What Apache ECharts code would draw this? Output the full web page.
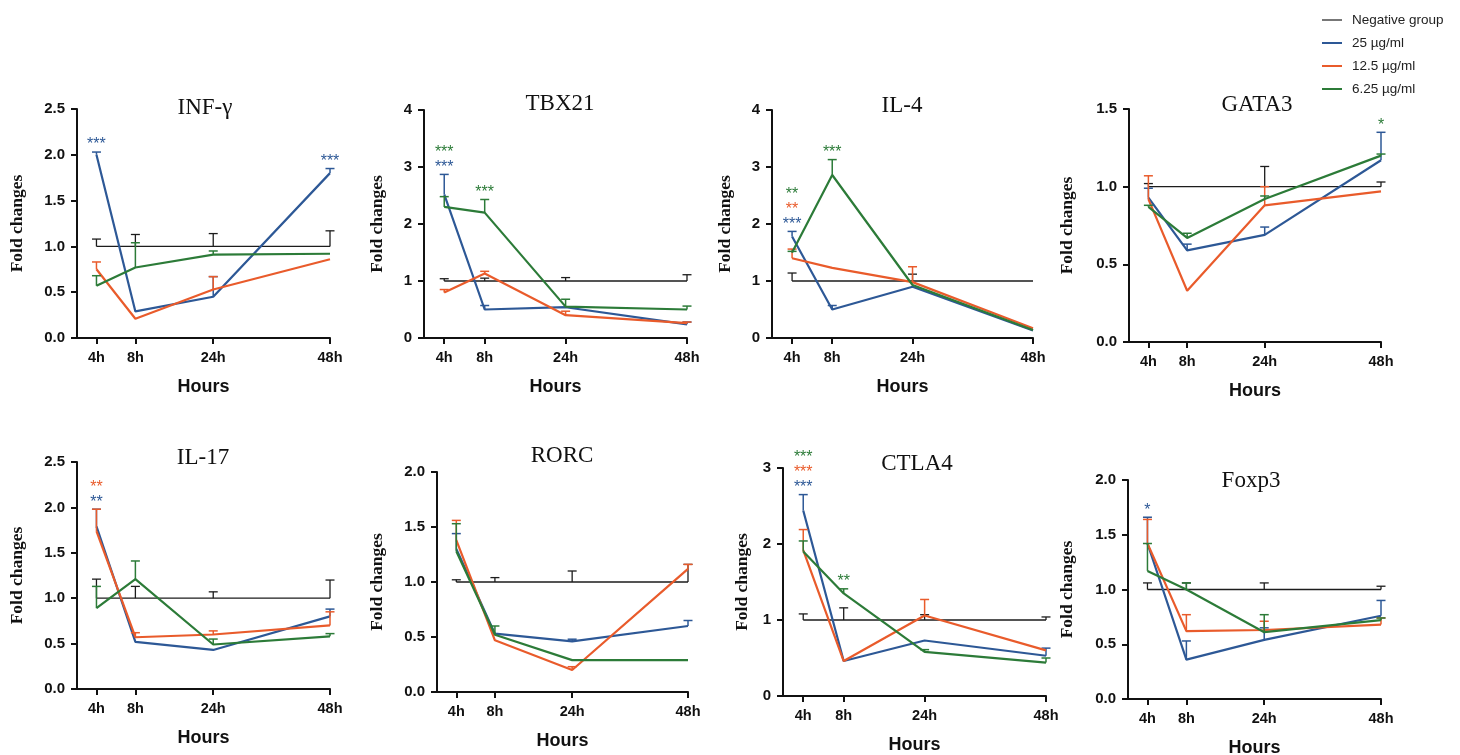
<!DOCTYPE html>
<html>
<head>
<meta charset="utf-8">
<script src="https://cdn.jsdelivr.net/npm/echarts@6/dist/echarts.min.js"></script>
<style>
  html, body { margin: 0; padding: 0; background: #fff; }
  #chart { width: 1460px; height: 755px; }
</style>
</head>
<body>
<div id="chart"></div>
<script>
// Sampling times and their spacing on the x axis
const hourLabels = ['4h', '8h', '24h', '48h'];
const hourPos = [0, 1, 3, 6];
const groupNames = ['Negative group', '25 µg/ml', '12.5 µg/ml', '6.25 µg/ml'];

// Fold changes (mean) and upper error (SEM) per gene, per group, at 4h/8h/24h/48h
const infgNeg = [1, 1, 1, 1],            infgNegErr = [0.08, 0.13, 0.14, 0.17];
const infg25  = [2.00, 0.29, 0.45, 1.80], infg25Err  = [0.03, 0, 0.22, 0.05];
const infg12  = [0.75, 0.21, 0.53, 0.86], infg12Err  = [0.08, 0, 0.14, 0];
const infg6   = [0.57, 0.77, 0.91, 0.92], infg6Err   = [0.11, 0.27, 0.04, 0];

const tbx21Neg = [1, 1, 1, 1],            tbx21NegErr = [0.04, 0.05, 0.06, 0.11];
const tbx2125  = [2.52, 0.50, 0.54, 0.24], tbx2125Err  = [0.35, 0.07, 0, 0.04];
const tbx2112  = [0.80, 1.13, 0.40, 0.26], tbx2112Err  = [0.05, 0.04, 0.07, 0.02];
const tbx216   = [2.30, 2.20, 0.55, 0.50], tbx216Err   = [0.18, 0.23, 0.13, 0.06];

const il4Neg = [1, 1, 1, 1],            il4NegErr = [0.14, 0, 0.12, 0];
const il425  = [1.78, 0.50, 0.90, 0.13], il425Err  = [0.09, 0.07, 0, 0];
const il412  = [1.40, 1.23, 0.98, 0.17], il412Err  = [0.16, 0, 0.27, 0];
const il46   = [1.50, 2.86, 0.93, 0.14], il46Err   = [0.02, 0.27, 0, 0];

const gata3Neg = [1, 1, 1, 1],            gata3NegErr = [0.02, 0, 0.13, 0.03];
const gata325  = [0.93, 0.59, 0.69, 1.17], gata325Err  = [0.06, 0.04, 0.05, 0.18];
const gata312  = [0.92, 0.33, 0.88, 0.97], gata312Err  = [0.15, 0, 0.12, 0];
const gata36   = [0.87, 0.67, 0.92, 1.20], gata36Err   = [0.01, 0.03, 0.02, 0.01];

const il17Neg = [1, 1, 1, 1],            il17NegErr = [0.21, 0.13, 0.07, 0.20];
const il1725  = [1.79, 0.52, 0.43, 0.80], il1725Err  = [0.19, 0, 0, 0.08];
const il1712  = [1.74, 0.57, 0.60, 0.70], il1712Err  = [0.24, 0.05, 0.04, 0.15];
const il176   = [0.89, 1.21, 0.49, 0.58], il176Err   = [0.24, 0.20, 0.06, 0.03];

const rorcNeg = [1, 1, 1, 1],            rorcNegErr = [0.02, 0.04, 0.10, 0.16];
const rorc25  = [1.30, 0.53, 0.46, 0.60], rorc25Err  = [0.14, 0, 0.02, 0.05];
const rorc12  = [1.38, 0.47, 0.20, 1.12], rorc12Err  = [0.18, 0, 0.03, 0.04];
const rorc6   = [1.28, 0.52, 0.29, 0.29], rorc6Err   = [0.25, 0.08, 0, 0];

const ctla4Neg = [1, 1, 1, 1],            ctla4NegErr = [0.08, 0.16, 0.07, 0.04];
const ctla425  = [2.44, 0.46, 0.73, 0.53], ctla425Err  = [0.21, 0, 0, 0.10];
const ctla412  = [1.92, 0.46, 1.06, 0.60], ctla412Err  = [0.27, 0, 0.21, 0];
const ctla46   = [1.90, 1.35, 0.58, 0.44], ctla46Err   = [0.14, 0.06, 0.03, 0.06];

const foxp3Neg = [1, 1, 1, 1],            foxp3NegErr = [0.06, 0.06, 0.06, 0.03];
const foxp325  = [1.42, 0.36, 0.54, 0.76], foxp325Err  = [0.24, 0.17, 0.11, 0.14];
const foxp312  = [1.42, 0.62, 0.63, 0.68], foxp312Err  = [0.22, 0.15, 0.08, 0.06];
const foxp36   = [1.17, 1.00, 0.61, 0.72], foxp36Err   = [0.25, 0.06, 0.16, 0.02];

// Significance marks: [time index, group index, mark, stacking row above the bars]
const infgStars  = [[0, 1, '***', 0], [3, 1, '***', 0]];
const tbx21Stars = [[0, 1, '***', 0], [0, 3, '***', 1], [1, 3, '***', 0]];
const il4Stars   = [[0, 1, '***', 0], [0, 2, '**', 1], [0, 3, '**', 2], [1, 3, '***', 0]];
const gata3Stars = [[3, 3, '*', 0]];
const il17Stars  = [[0, 1, '**', 0], [0, 2, '**', 1]];
const rorcStars  = [];
const ctla4Stars = [[0, 1, '***', 0], [0, 2, '***', 1], [0, 3, '***', 2], [1, 3, '**', 0]];
const foxp3Stars = [[0, 1, '*', 0]];

// Y-axis ranges
const yMaxes  = [2.5, 4, 4, 1.5, 2.5, 2.0, 3, 2.0];
const ySteps  = [0.5, 1, 1, 0.5, 0.5, 0.5, 1, 0.5];
const titles  = ['INF-γ', 'TBX21', 'IL-4', 'GATA3', 'IL-17', 'RORC', 'CTLA4', 'Foxp3'];

const panels = [
  { groups: [[infgNeg, infgNegErr], [infg25, infg25Err], [infg12, infg12Err], [infg6, infg6Err]], stars: infgStars },
  { groups: [[tbx21Neg, tbx21NegErr], [tbx2125, tbx2125Err], [tbx2112, tbx2112Err], [tbx216, tbx216Err]], stars: tbx21Stars },
  { groups: [[il4Neg, il4NegErr], [il425, il425Err], [il412, il412Err], [il46, il46Err]], stars: il4Stars },
  { groups: [[gata3Neg, gata3NegErr], [gata325, gata325Err], [gata312, gata312Err], [gata36, gata36Err]], stars: gata3Stars },
  { groups: [[il17Neg, il17NegErr], [il1725, il1725Err], [il1712, il1712Err], [il176, il176Err]], stars: il17Stars },
  { groups: [[rorcNeg, rorcNegErr], [rorc25, rorc25Err], [rorc12, rorc12Err], [rorc6, rorc6Err]], stars: rorcStars },
  { groups: [[ctla4Neg, ctla4NegErr], [ctla425, ctla425Err], [ctla412, ctla412Err], [ctla46, ctla46Err]], stars: ctla4Stars },
  { groups: [[foxp3Neg, foxp3NegErr], [foxp325, foxp325Err], [foxp312, foxp312Err], [foxp36, foxp36Err]], stars: foxp3Stars }
];

// Panel placement: plot box (y-axis x, 48h x, top, baseline), y-name gap, title centre
const layout = [
  { l: 77,  r: 330,  t: 109, b: 338, ng: 51, tx: 205,  ty: 107 },
  { l: 424, r: 687,  t: 110, b: 338, ng: 38, tx: 560,  ty: 103 },
  { l: 772, r: 1033, t: 110, b: 338, ng: 38, tx: 902,  ty: 105 },
  { l: 1129, r: 1381, t: 109, b: 342, ng: 53, tx: 1257, ty: 104 },
  { l: 77,  r: 330,  t: 462, b: 689, ng: 51, tx: 203,  ty: 457 },
  { l: 437, r: 688,  t: 472, b: 692, ng: 51, tx: 562,  ty: 455 },
  { l: 783, r: 1046, t: 468, b: 696, ng: 32, tx: 917,  ty: 463 },
  { l: 1128, r: 1381, t: 480, b: 699, ng: 52, tx: 1251, ty: 480 }
];

const COLORS = ['#1c1c1c', '#2d5896', '#e95b2b', '#2c7b38'];
const LINE_W = [1.3, 2.2, 2.2, 2.2];
const BAR_W  = [1.3, 1.5, 1.5, 1.5];
const DRAW_ORDER = [0, 3, 2, 1];
const SANS = '"Liberation Sans", Arial, sans-serif';
const SERIF = '"Liberation Serif", "Times New Roman", serif';
const INK = '#111';

const grids = [], xAxes = [], yAxes = [], series = [], titleList = [];

panels.forEach((p, i) => {
  const L = layout[i];
  const dec = ySteps[i] < 1 ? 1 : 0;
  grids.push({ left: L.l, top: L.t, width: L.r - L.l, height: L.b - L.t, containLabel: false, outerBoundsMode: 'none' });
  xAxes.push({
    type: 'value', gridIndex: i, min: -0.5, max: 6,
    axisLine: { show: true, onZero: false, lineStyle: { color: INK, width: 2 } },
    axisTick: { show: true, customValues: hourPos, length: 6, lineStyle: { color: INK, width: 2 } },
    axisLabel: {
      customValues: hourPos, formatter: v => hourLabels[hourPos.indexOf(v)] || '',
      fontFamily: SANS, fontWeight: 'bold', fontSize: 14.5, color: INK, margin: 12
    },
    splitLine: { show: false },
    name: 'Hours', nameLocation: 'middle', nameGap: 40, nameMoveOverlap: false,
    nameTextStyle: { fontFamily: SANS, fontWeight: 'bold', fontSize: 18, color: INK }
  });
  yAxes.push({
    type: 'value', gridIndex: i, min: 0, max: yMaxes[i], interval: ySteps[i],
    axisLine: { show: true, onZero: false, lineStyle: { color: INK, width: 2 } },
    axisTick: { show: true, length: 6, lineStyle: { color: INK, width: 2 } },
    axisLabel: { formatter: v => v.toFixed(dec), fontFamily: SANS, fontWeight: 'bold', fontSize: 15, color: INK, margin: 12 },
    splitLine: { show: false },
    name: 'Fold changes', nameLocation: 'middle', nameGap: L.ng, nameRotate: 90, nameMoveOverlap: false,
    nameTextStyle: { fontFamily: SERIF, fontWeight: 'bold', fontSize: 17.5, color: INK }
  });
  titleList.push({
    text: titles[i], left: L.tx, top: L.ty - 11, textAlign: 'center', padding: 0,
    textStyle: { fontFamily: SERIF, fontWeight: 'normal', fontSize: 23, color: INK }
  });

  DRAW_ORDER.forEach(g => {
    const [mean, err] = p.groups[g];
    series.push({
      type: 'line', name: groupNames[g], xAxisIndex: i, yAxisIndex: i,
      data: hourPos.map((x, k) => [x, mean[k]]),
      symbol: 'none', color: COLORS[g],
      lineStyle: { color: COLORS[g], width: LINE_W[g] },
      z: 3 + g, animation: false, silent: true
    });
    series.push({
      type: 'custom', xAxisIndex: i, yAxisIndex: i,
      data: hourPos.map((x, k) => [x, mean[k], mean[k] + err[k]]),
      encode: { x: 0, y: [1, 2] }, z: 3 + g, animation: false, silent: true,
      renderItem: (params, api) => {
        if (api.value(2) - api.value(1) <= 0) return { type: 'group', children: [] };
        const p0 = api.coord([api.value(0), api.value(1)]);
        const p1 = api.coord([api.value(0), api.value(2)]);
        const st = { stroke: COLORS[g], lineWidth: BAR_W[g] };
        return { type: 'group', children: [
          { type: 'line', shape: { x1: p0[0], y1: p0[1], x2: p1[0], y2: p1[1] }, style: st },
          { type: 'line', shape: { x1: p1[0] - 4.5, y1: p1[1], x2: p1[0] + 4.5, y2: p1[1] }, style: st }
        ] };
      }
    });
  });

  // significance marks sit above the highest error bar at that time point
  if (p.stars.length) {
    const tops = hourPos.map((_, k) => Math.max(...p.groups.map(([m, e]) => m[k] + e[k])));
    series.push({
      type: 'custom', xAxisIndex: i, yAxisIndex: i,
      data: p.stars.map(s => [hourPos[s[0]], tops[s[0]]]),
      encode: { x: 0, y: 1 }, z: 10, animation: false, silent: true,
      renderItem: (params, api) => {
        const s = p.stars[params.dataIndex];
        const c = api.coord([api.value(0), api.value(1)]);
        return {
          type: 'text',
          style: {
            text: s[2], x: c[0], y: c[1] - 7 - s[3] * 15,
            fill: COLORS[s[1]], font: '16px ' + SANS, align: 'center', verticalAlign: 'middle'
          }
        };
      }
    });
  }
});

const chart = echarts.init(document.getElementById('chart'), null, { renderer: 'canvas' });
chart.setOption({
  backgroundColor: '#fff',
  animation: false,
  title: titleList,
  legend: {
    orient: 'vertical', left: 1322, top: 13, padding: 0,
    icon: 'rect', itemWidth: 20, itemHeight: 2, itemGap: 9,
    selectedMode: false,
    data: groupNames.map((n, g) => ({ name: n, itemStyle: { color: g === 0 ? '#777' : COLORS[g] } })),
    textStyle: { fontFamily: SANS, fontSize: 13.5, color: '#222', padding: [0, 0, 0, 5] }
  },
  grid: grids,
  xAxis: xAxes,
  yAxis: yAxes,
  series: series
});
</script>
</body>
</html>
